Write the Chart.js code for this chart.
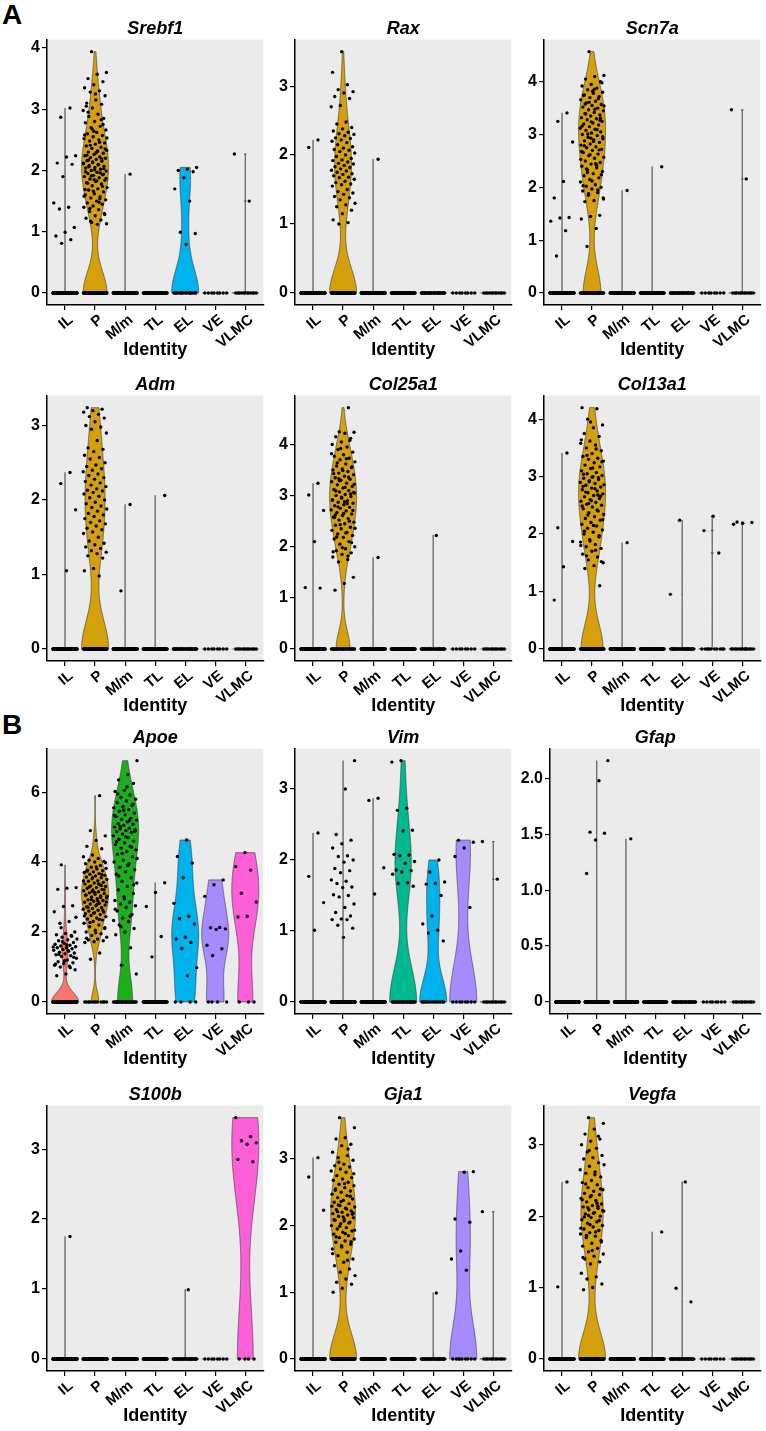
<!DOCTYPE html>
<html>
<head>
<meta charset="utf-8">
<script src="https://cdn.jsdelivr.net/npm/chart.js@4.4.0/dist/chart.umd.min.js"></script>
<style>
  body { margin: 0; background: #fff; width: 766px; height: 1431px; position: relative; overflow: hidden; }
  canvas { position: absolute; }
  .tag { position: absolute; font: bold 28px/28px 'Liberation Sans', Arial, sans-serif; color: #000; }
</style>
</head>
<body>
<div class="tag" style="left:2px; top:1px;">A</div>
<div class="tag" style="left:2px; top:711px;">B</div>
<script>
// Cell groups on the x axis and their fill colours
const categories = ['IL', 'P', 'M/m', 'TL', 'EL', 'VE', 'VLMC'];
const groupColors = ['#F8766D', '#D4A00C', '#1CAF1C', '#00B98F', '#00B2EC', '#A68BFF', '#FC5FD8'];

// Tick values for the y axes
const ticks0to4 = [0, 1, 2, 3, 4];
const ticks0to3 = [0, 1, 2, 3];
const ticksApoe = [0, 2, 4, 6];
const ticksGfap = [0, 0.5, 1, 1.5, 2];
const labelsGfap = ['0', '0.5', '1.0', '1.5', '2.0'];

// Each gene: number of cells at 0 per group, and the non-zero expression values per group
const srebf1Zeros = [150, 60, 120, 60, 16, 8, 12];
const srebf1Values = [
  [3.02, 2.87, 2.24, 2.22, 2.12, 2.10, 1.90, 1.47, 1.40, 1.37, 1.07, 0.99, 0.93, 0.87, 0.81],
  [3.94, 3.60, 3.57, 3.50, 3.45, 3.40, 3.35, 3.30, 3.28, 3.22, 3.15, 3.10, 3.08, 3.02, 2.98, 2.92, 2.88, 2.85, 2.80, 2.78, 2.72, 2.70, 2.66, 2.62, 2.60, 2.57, 2.55, 2.52, 2.50, 2.48, 2.45, 2.43, 2.40, 2.38, 2.36, 2.33, 2.31, 2.30, 2.28, 2.26, 2.24, 2.22, 2.21, 2.20, 2.18, 2.16, 2.15, 2.13, 2.12, 2.10, 2.08, 2.07, 2.05, 2.04, 2.02, 2.00, 1.99, 1.97, 1.95, 1.93, 1.92, 1.90, 1.88, 1.86, 1.84, 1.82, 1.80, 1.78, 1.75, 1.72, 1.70, 1.68, 1.65, 1.62, 1.60, 1.57, 1.55, 1.52, 1.50, 1.47, 1.45, 1.42, 1.40, 1.36, 1.33, 1.30, 1.26, 1.22, 1.19, 1.15, 1.13, 1.12,
   2.95, 2.75, 2.64, 2.58, 2.46, 2.41, 2.35, 2.29, 2.25, 2.19, 2.14, 2.11, 2.09, 2.06, 2.03, 2.01, 1.98, 1.96, 1.91, 1.87, 1.83, 1.79, 1.74, 1.66, 1.58, 1.48, 1.38, 1.28, 3.25, 3.05, 2.83, 2.68, 2.53, 2.32, 2.17, 1.94, 1.85, 1.69, 1.54, 1.17],
  [1.94],
  [],
  [2.05, 2.02, 2.00, 1.98, 1.88, 1.70, 1.50, 0.99, 0.97, 0.79],
  [],
  [2.27, 1.50]
];

const raxZeros = [150, 65, 120, 60, 30, 8, 12];
const raxValues = [
  [2.22, 2.11],
  [3.50, 3.20, 3.02, 2.95, 2.92, 2.90, 2.85, 2.82, 2.72, 2.70, 2.48, 2.45, 2.40, 2.38, 2.35, 2.33, 2.31, 2.30, 2.28, 2.25, 2.24, 2.22, 2.20, 2.18, 2.15, 2.12, 2.10, 2.08, 2.07, 2.05, 2.03, 2.00, 1.98, 1.95, 1.93, 1.92, 1.90, 1.88, 1.87, 1.85, 1.83, 1.82, 1.80, 1.78, 1.77, 1.75, 1.73, 1.72, 1.70, 1.68, 1.67, 1.65, 1.62, 1.60, 1.58, 1.57, 1.55, 1.50, 1.47, 1.45, 1.43, 1.40, 1.38, 1.35, 1.30, 1.28, 1.25, 1.20, 1.15, 1.06, 1.02, 1.00],
  [1.94],
  [], [], [], []
];

const scn7aZeros = [150, 39, 120, 60, 30, 8, 12];
const scn7aValues = [
  [3.41, 3.25, 2.86, 2.11, 1.80, 1.43, 1.42, 1.36, 1.18, 0.70],
  [4.57, 4.12, 4.10, 4.05, 4.00, 3.95, 3.92, 3.88, 3.85, 3.80, 3.78, 3.75, 3.72, 3.70, 3.66, 3.63, 3.60, 3.57, 3.55, 3.52, 3.50, 3.47, 3.45, 3.42, 3.40, 3.37, 3.35, 3.32, 3.30, 3.28, 3.25, 3.22, 3.20, 3.18, 3.15, 3.12, 3.10, 3.08, 3.05, 3.03, 3.00, 2.98, 2.95, 2.92, 2.90, 2.88, 2.85, 2.82, 2.80, 2.77, 2.75, 2.72, 2.70, 2.66, 2.63, 2.60, 2.57, 2.55, 2.50, 2.47, 2.44, 2.40, 2.37, 2.33, 2.30, 2.26, 2.22, 2.18, 2.15, 2.10, 2.05, 2.02, 2.00, 1.97, 1.93, 1.90, 1.85, 1.80, 1.75, 1.73, 1.47, 1.45, 1.40, 1.22, 0.88,
   3.98, 3.82, 3.74, 3.68, 3.61, 3.54, 3.48, 3.39, 3.31, 3.24, 3.16, 3.09, 3.01, 2.96, 2.87, 2.79, 2.71, 2.62, 2.53, 2.45, 2.35, 2.24, 2.12, 2.03, 1.95, 1.88, 1.78, 3.86, 3.58, 3.27, 2.93, 2.68, 2.42, 2.28],
  [1.94],
  [2.39],
  [],
  [],
  [3.47, 2.16]
];

const admZeros = [150, 50, 120, 60, 30, 8, 12];
const admValues = [
  [2.37, 2.22, 1.87, 1.05],
  [3.24, 3.22, 3.20, 3.18, 3.15, 3.12, 3.10, 3.05, 3.00, 2.98, 2.95, 2.90, 2.80, 2.70, 2.68, 2.65, 2.60, 2.57, 2.55, 2.50, 2.47, 2.45, 2.42, 2.40, 2.38, 2.35, 2.33, 2.30, 2.28, 2.25, 2.23, 2.20, 2.18, 2.15, 2.13, 2.12, 2.10, 2.08, 2.05, 2.03, 2.00, 1.97, 1.95, 1.92, 1.90, 1.88, 1.85, 1.82, 1.80, 1.78, 1.75, 1.72, 1.70, 1.68, 1.65, 1.62, 1.60, 1.57, 1.55, 1.50, 1.45, 1.42, 1.40, 1.37, 1.35, 1.32, 1.30, 1.28, 1.25, 1.22, 1.08, 1.05, 0.98],
  [1.94, 0.78],
  [2.06],
  [], [], []
];

const col25a1Zeros = [150, 25, 120, 60, 30, 8, 12];
const col25a1Values = [
  [3.24, 3.01, 2.71, 2.10, 1.20, 1.19],
  [4.72, 4.25, 4.24, 4.22, 4.15, 4.12, 4.05, 4.00, 3.95, 3.90, 3.85, 3.80, 3.77, 3.73, 3.70, 3.66, 3.62, 3.58, 3.55, 3.52, 3.50, 3.47, 3.44, 3.41, 3.38, 3.35, 3.32, 3.30, 3.27, 3.24, 3.21, 3.18, 3.15, 3.12, 3.10, 3.07, 3.05, 3.02, 3.00, 2.98, 2.95, 2.92, 2.90, 2.87, 2.85, 2.82, 2.80, 2.77, 2.75, 2.72, 2.70, 2.67, 2.64, 2.61, 2.58, 2.55, 2.52, 2.48, 2.45, 2.42, 2.38, 2.35, 2.32, 2.28, 2.25, 2.22, 2.18, 2.15, 2.10, 2.05, 2.00, 1.96, 1.92, 1.88, 1.85, 1.80, 1.75, 1.70, 1.40, 1.28, 1.15,
   4.08, 3.92, 3.82, 3.72, 3.64, 3.56, 3.49, 3.43, 3.36, 3.29, 3.22, 3.16, 3.09, 3.03, 2.97, 2.91, 2.84, 2.78, 2.71, 2.65, 2.57, 2.50, 2.43, 2.36, 2.27, 2.19, 2.08, 1.98, 1.90, 1.82, 3.33, 3.06, 2.88, 2.62],
  [1.79],
  [],
  [2.22],
  [], []
];

const col13a1Zeros = [150, 45, 120, 60, 28, 10, 14];
const col13a1Values = [
  [3.41, 2.11, 1.87, 1.43, 0.85],
  [4.20, 4.18, 4.00, 3.90, 3.85, 3.75, 3.70, 3.62, 3.58, 3.55, 3.50, 3.45, 3.40, 3.35, 3.32, 3.30, 3.27, 3.24, 3.20, 3.17, 3.14, 3.10, 3.07, 3.05, 3.02, 3.00, 2.97, 2.95, 2.93, 2.90, 2.88, 2.85, 2.82, 2.80, 2.77, 2.75, 2.72, 2.70, 2.67, 2.65, 2.62, 2.60, 2.57, 2.55, 2.52, 2.50, 2.47, 2.44, 2.40, 2.37, 2.34, 2.30, 2.27, 2.24, 2.20, 2.17, 2.14, 2.10, 2.07, 2.03, 2.00, 1.95, 1.90, 1.86, 1.82, 1.78, 1.75, 1.70, 1.65, 1.60, 1.55, 1.50, 1.45, 1.40, 1.10,
   3.95, 3.64, 3.48, 3.37, 3.26, 3.15, 3.04, 2.98, 2.91, 2.86, 2.79, 2.73, 2.66, 2.58, 2.49, 2.42, 2.33, 2.25, 2.15, 2.05, 1.97, 1.88, 1.80, 1.72, 1.62, 1.52, 2.99, 2.83, 2.68, 2.53],
  [1.85],
  [],
  [2.24, 0.95],
  [2.31, 2.06, 1.67],
  [2.21, 2.20, 2.19, 2.17]
];

const apoeZeros = [130, 12, 25, 60, 4, 4, 3];
const apoeValues = [
  [3.92, 3.27, 3.25, 3.22, 2.75, 2.73, 2.58, 2.30, 2.25, 2.00, 1.96, 1.92, 1.90, 1.85, 1.80, 1.78, 1.75, 1.70, 1.68, 1.65, 1.62, 1.60, 1.58, 1.55, 1.55, 1.52, 1.50, 1.48, 1.45, 1.42, 1.40, 1.38, 1.35, 1.32, 1.30, 1.25, 1.20, 1.15, 1.12, 1.10, 1.05, 1.02, 1.00, 0.92, 0.80, 0.75,
   1.88, 1.72, 1.57, 1.47, 1.36, 1.28, 1.18, 1.08, 0.98, 2.12, 2.42, 1.63],
  [5.90, 4.90, 4.75, 4.62, 4.45, 4.38, 4.20, 4.15, 4.10, 4.05, 4.02, 4.00, 3.95, 3.90, 3.85, 3.82, 3.80, 3.77, 3.75, 3.72, 3.70, 3.67, 3.65, 3.62, 3.60, 3.57, 3.55, 3.52, 3.50, 3.47, 3.45, 3.42, 3.40, 3.37, 3.35, 3.32, 3.30, 3.27, 3.25, 3.22, 3.20, 3.18, 3.15, 3.12, 3.10, 3.08, 3.05, 3.03, 3.00, 2.98, 2.95, 2.92, 2.90, 2.88, 2.85, 2.82, 2.80, 2.77, 2.75, 2.72, 2.70, 2.67, 2.65, 2.62, 2.60, 2.57, 2.55, 2.52, 2.50, 2.47, 2.44, 2.40, 2.37, 2.34, 2.30, 2.25, 2.20, 2.15, 2.10, 2.05, 2.00, 1.95, 1.90, 1.85, 1.80, 1.77, 1.75, 1.72, 1.70, 1.40, 1.22,
   3.98, 3.86, 3.74, 3.64, 3.56, 3.46, 3.38, 3.29, 3.21, 3.13, 3.06, 2.99, 2.93, 2.86, 2.79, 2.71, 2.63, 2.54, 2.46, 2.36, 2.27, 2.12, 1.98, 1.82, 3.33, 3.16, 3.02, 2.89],
  [6.90, 6.50, 6.35, 6.25, 6.05, 6.02, 5.92, 5.85, 5.80, 5.75, 5.70, 5.62, 5.58, 5.55, 5.50, 5.45, 5.40, 5.35, 5.30, 5.25, 5.22, 5.20, 5.15, 5.10, 5.08, 5.05, 5.00, 4.97, 4.95, 4.92, 4.90, 4.87, 4.85, 4.80, 4.75, 4.70, 4.65, 4.60, 4.55, 4.50, 4.45, 4.40, 4.35, 4.30, 4.22, 4.15, 4.05, 4.00, 3.95, 3.85, 3.78, 3.72, 3.65, 3.55, 3.45, 3.40, 3.30, 3.20, 3.10, 3.00, 2.90, 2.85, 2.80, 2.75, 2.70, 2.60, 2.50, 2.40, 2.33, 2.30, 2.20, 2.10, 2.00, 1.92, 1.55, 1.05, 0.80,
   6.15, 5.95, 5.65, 5.48, 5.33, 5.18, 5.02, 4.88, 4.72, 4.58, 4.42, 4.25, 4.10, 3.90, 3.60, 3.35, 2.95, 2.65, 2.45, 2.15],
  [3.41, 3.13, 2.73, 1.87, 1.29],
  [4.63, 4.16, 3.97, 3.55, 2.82, 2.45, 2.38, 2.23, 1.85, 1.80, 1.70, 1.53, 0.98, 0.75],
  [3.49, 3.35, 3.02, 2.13, 2.12, 2.09, 2.07, 1.62, 1.52, 1.33],
  [4.27, 3.87, 3.77, 3.11, 2.86, 2.45, 2.43]
];

const vimZeros = [150, 150, 120, 22, 14, 8, 12];
const vimValues = [
  [2.38, 1.77, 1.40, 1.01],
  [3.40, 3.00, 2.36, 2.28, 2.23, 2.17, 2.06, 2.05, 2.00, 1.97, 1.88, 1.85, 1.82, 1.72, 1.70, 1.67, 1.62, 1.61, 1.51, 1.50, 1.48, 1.38, 1.33, 1.26, 1.21, 1.17, 1.16, 1.16, 1.08, 1.04, 0.91],
  [2.87, 2.84, 1.89, 1.52],
  [3.40, 3.38, 2.73, 2.70, 2.42, 2.41, 2.08, 2.07, 2.06, 1.98, 1.95, 1.86, 1.85, 1.83, 1.80, 1.68, 1.67, 1.63],
  [2.00, 1.83, 1.69, 1.67, 1.66, 1.50, 1.21, 1.10, 1.01, 0.97, 0.86],
  [2.28, 2.25, 2.17, 2.05, 1.33],
  [2.26, 1.73]
];

const gfapZeros = [150, 150, 120, 60, 30, 8, 12];
const gfapValues = [
  [],
  [2.16, 1.98, 1.52, 1.51, 1.45, 1.15],
  [1.46],
  [], [], [], []
];

const s100bZeros = [150, 150, 120, 60, 30, 8, 4];
const s100bValues = [
  [1.75],
  [], [], [],
  [0.99],
  [],
  [3.45, 3.18, 3.12, 3.09, 3.07, 2.85, 2.82]
];

const gja1Zeros = [150, 60, 120, 60, 30, 9, 12];
const gja1Values = [
  [3.02, 2.73, 2.23],
  [3.62, 3.47, 3.32, 3.30, 3.22, 3.20, 3.10, 3.05, 3.02, 2.98, 2.92, 2.90, 2.88, 2.85, 2.82, 2.80, 2.75, 2.72, 2.70, 2.68, 2.65, 2.62, 2.60, 2.57, 2.55, 2.52, 2.50, 2.47, 2.45, 2.42, 2.40, 2.38, 2.35, 2.33, 2.30, 2.28, 2.26, 2.24, 2.22, 2.20, 2.18, 2.16, 2.14, 2.12, 2.10, 2.08, 2.05, 2.03, 2.00, 1.97, 1.95, 1.92, 1.90, 1.87, 1.85, 1.82, 1.80, 1.77, 1.75, 1.72, 1.70, 1.65, 1.60, 1.55, 1.50, 1.45, 1.40, 1.35, 1.30, 1.25, 1.20, 1.15, 1.12, 1.06, 1.00,
   3.15, 2.95, 2.78, 2.63, 2.53, 2.44, 2.36, 2.29, 2.25, 2.21, 2.17, 2.13, 2.09, 2.04, 1.99, 1.93, 1.88, 1.83, 1.76, 1.68, 1.58, 1.48, 2.31, 2.19, 2.07],
  [], [],
  [0.99],
  [2.81, 2.80, 2.10, 2.05, 1.62, 1.50, 1.33],
  [2.21]
];

const vegfaZeros = [150, 60, 120, 60, 30, 8, 12];
const vegfaValues = [
  [2.48, 1.01],
  [3.38, 3.30, 3.22, 3.15, 3.08, 3.05, 3.00, 2.95, 2.90, 2.85, 2.82, 2.80, 2.75, 2.70, 2.65, 2.62, 2.60, 2.55, 2.50, 2.47, 2.44, 2.40, 2.37, 2.35, 2.32, 2.30, 2.27, 2.25, 2.22, 2.20, 2.17, 2.15, 2.13, 2.11, 2.09, 2.07, 2.05, 2.03, 2.00, 1.98, 1.95, 1.92, 1.90, 1.87, 1.85, 1.82, 1.80, 1.77, 1.75, 1.72, 1.70, 1.66, 1.62, 1.58, 1.55, 1.50, 1.47, 1.44, 1.40, 1.36, 1.33, 1.20, 1.15, 1.12, 1.05, 1.00, 0.97,
   3.12, 2.92, 2.72, 2.58, 2.45, 2.38, 2.29, 2.23, 2.18, 2.12, 2.08, 2.04, 1.99, 1.94, 1.88, 1.83, 1.78, 1.73, 1.64, 1.52, 1.42, 2.14, 2.01],
  [],
  [1.78],
  [2.48, 0.99, 0.80],
  [], []
];

// Where each panel sits on the page (canvas top per row, y-axis line and right edge per column)
const rowTops = [18, 374, 727, 1084];
const colAxisX = [47, 295, 544];
const colRight = [265, 513, 762];

const panels = [
  { gene: 'Srebf1', zeros: srebf1Zeros, values: srebf1Values, ticks: ticks0to4 },
  { gene: 'Rax', zeros: raxZeros, values: raxValues, ticks: ticks0to3 },
  { gene: 'Scn7a', zeros: scn7aZeros, values: scn7aValues, ticks: ticks0to4 },
  { gene: 'Adm', zeros: admZeros, values: admValues, ticks: ticks0to3 },
  { gene: 'Col25a1', zeros: col25a1Zeros, values: col25a1Values, ticks: ticks0to4 },
  { gene: 'Col13a1', zeros: col13a1Zeros, values: col13a1Values, ticks: ticks0to4 },
  { gene: 'Apoe', zeros: apoeZeros, values: apoeValues, ticks: ticksApoe },
  { gene: 'Vim', zeros: vimZeros, values: vimValues, ticks: ticks0to3 },
  { gene: 'Gfap', zeros: gfapZeros, values: gfapValues, ticks: ticksGfap, labels: labelsGfap, axisShift: 6 },
  { gene: 'S100b', zeros: s100bZeros, values: s100bValues, ticks: ticks0to3 },
  { gene: 'Gja1', zeros: gja1Zeros, values: gja1Values, ticks: ticks0to3 },
  { gene: 'Vegfa', zeros: vegfaZeros, values: vegfaValues, ticks: ticks0to3 }
];

Chart.defaults.font.family = "'Liberation Sans', Arial, sans-serif";
Chart.defaults.color = '#000';

const CANVAS_H = 343;
const Y_AXIS_W = 38;

// Same rule as R's bw.nrd0; a group that is mostly zeros gets a tiny bandwidth
// (Seurat adds a little noise to the data, so its IQR is ~1e-5 there)
function bandwidth(vals, zeroCount) {
  const all = new Array(zeroCount).fill(0).concat(vals).sort((a, b) => a - b);
  const n = all.length;
  const mean = all.reduce((s, v) => s + v, 0) / n;
  const sd = Math.sqrt(all.reduce((s, v) => s + (v - mean) * (v - mean), 0) / (n - 1));
  const q = p => {
    const h = (n - 1) * p, i = Math.floor(h);
    const next = i + 1 < n ? all[i + 1] : all[i];
    return all[i] + (h - i) * (next - all[i]);
  };
  const iqr = q(0.75) - q(0.25);
  const spread = Math.min(sd, iqr > 0 ? iqr / 1.34 : 1e-5);
  return 0.9 * spread * Math.pow(n, -0.2);
}

// Violin outline: list of [value, half width] from a gaussian density, trimmed to the data range
function violinShape(vals, zeroCount) {
  const n = vals.length + zeroCount;
  if (n < 2) return null;
  const lo = zeroCount > 0 ? Math.min(0, ...vals) : Math.min(...vals);
  const hi = Math.max(zeroCount > 0 ? 0 : -Infinity, ...vals);
  if (hi - lo <= 0) return { flat: true, y: lo };
  const bw = bandwidth(vals, zeroCount);
  const grid = [];
  for (let s = 0; s <= 300; s++) grid.push(lo + (hi - lo) * s / 300);
  vals.forEach(v => grid.push(v));
  grid.sort((a, b) => a - b);
  const dens = grid.map(y => {
    let d = zeroCount * Math.exp(-0.5 * (y / bw) * (y / bw));
    vals.forEach(v => { const z = (y - v) / bw; d += Math.exp(-0.5 * z * z); });
    return d;
  });
  const dmax = Math.max(...dens);
  return { flat: false, pts: grid.map((y, j) => [y, 0.45 * dens[j] / dmax]) };
}

// Fixed spread of points across each group (like geom_jitter, width 0.4)
function jitter(k, g) {
  const f = (k * 0.6180339887 + g * 0.2718) % 1;
  return (f - 0.5) * 0.8;
}

function violinPlugin(shapes) {
  return {
    id: 'violins',
    beforeDraw(chart) {
      const { ctx, chartArea: a } = chart;
      ctx.save();
      ctx.fillStyle = '#EBEBEB';
      ctx.fillRect(a.left, a.top, a.right - a.left, a.bottom - a.top);
      ctx.restore();
    },
    beforeDatasetsDraw(chart) {
      const { ctx, chartArea: a, scales: { x, y } } = chart;
      ctx.save();
      ctx.beginPath();
      ctx.rect(a.left, a.top, a.right - a.left, a.bottom - a.top);
      ctx.clip();
      ctx.lineWidth = 0.6;
      ctx.strokeStyle = '#333';
      shapes.forEach((shape, i) => {
        if (!shape) return;
        const cx = i + 1;
        if (shape.flat) {
          ctx.beginPath();
          ctx.moveTo(x.getPixelForValue(cx - 0.45), y.getPixelForValue(shape.y));
          ctx.lineTo(x.getPixelForValue(cx + 0.45), y.getPixelForValue(shape.y));
          ctx.stroke();
          return;
        }
        ctx.beginPath();
        shape.pts.forEach(([v, w], j) => {
          const px = x.getPixelForValue(cx + w), py = y.getPixelForValue(v);
          if (j === 0) ctx.moveTo(px, py); else ctx.lineTo(px, py);
        });
        for (let j = shape.pts.length - 1; j >= 0; j--) {
          const [v, w] = shape.pts[j];
          ctx.lineTo(x.getPixelForValue(cx - w), y.getPixelForValue(v));
        }
        ctx.closePath();
        ctx.fillStyle = groupColors[i];
        ctx.fill();
        ctx.stroke();
      });
      ctx.restore();
    }
  };
}

function axisLook() {
  return {
    grid: { display: true, drawOnChartArea: false, drawTicks: true, tickLength: 5, color: '#000', lineWidth: 1.2 },
    border: { display: true, color: '#000', width: 1.5 }
  };
}

panels.forEach((panel, p) => {
  const row = Math.floor(p / 3), col = p % 3;
  const axisX = colAxisX[col] + (panel.axisShift || 0);
  const yWidth = Y_AXIS_W + (panel.axisShift || 0);
  const left = axisX - yWidth;
  const width = colRight[col] - left;

  const canvas = document.createElement('canvas');
  canvas.width = width;
  canvas.height = CANVAS_H;
  canvas.style.left = left + 'px';
  canvas.style.top = rowTops[row] + 'px';
  document.body.appendChild(canvas);

  const yMax = Math.max(0, ...panel.values.flat());
  const pad = 0.05 * yMax;

  const points = [];
  panel.values.forEach((vals, g) => {
    const all = new Array(panel.zeros[g]).fill(0).concat(vals);
    all.forEach((v, k) => points.push({ x: g + 1 + jitter(k, g), y: v }));
  });
  const shapes = panel.values.map((vals, g) => violinShape(vals, panel.zeros[g]));

  new Chart(canvas, {
    type: 'scatter',
    data: {
      datasets: [{
        data: points,
        pointRadius: 1.7,
        pointHoverRadius: 1.7,
        pointBackgroundColor: '#000',
        pointBorderWidth: 0
      }]
    },
    options: {
      responsive: false,
      animation: false,
      devicePixelRatio: 1,
      events: [],
      layout: { padding: 0 },
      plugins: {
        legend: { display: false },
        tooltip: { enabled: false },
        title: {
          display: true,
          text: panel.gene,
          fullSize: false,
          color: '#000',
          padding: 0,
          font: { size: 18, weight: 'bold', style: 'italic' }
        }
      },
      scales: {
        x: {
          type: 'linear',
          min: 0.4,
          max: 7.6,
          afterBuildTicks: s => { s.ticks = categories.map((c, i) => ({ value: i + 1 })); },
          afterFit: s => { s.height = 56; },
          ticks: {
            autoSkip: false,
            minRotation: 40,
            maxRotation: 40,
            padding: 1,
            labelOffset: 6,
            color: '#000',
            font: { size: 15, weight: 'bold' },
            callback: v => categories[Math.round(v) - 1]
          },
          title: { display: true, text: 'Identity', color: '#000', padding: 0, font: { size: 18, weight: 'bold' } },
          ...axisLook()
        },
        y: {
          type: 'linear',
          min: -pad,
          max: yMax + pad,
          afterBuildTicks: s => { s.ticks = panel.ticks.map(v => ({ value: v })); },
          afterFit: s => { s.width = yWidth; },
          ticks: {
            padding: 2,
            color: '#000',
            font: { size: 16, weight: 'bold' },
            callback: (v, i) => panel.labels ? panel.labels[i] : String(v)
          },
          ...axisLook()
        }
      }
    },
    plugins: [violinPlugin(shapes)]
  });
});
</script>
</body>
</html>
